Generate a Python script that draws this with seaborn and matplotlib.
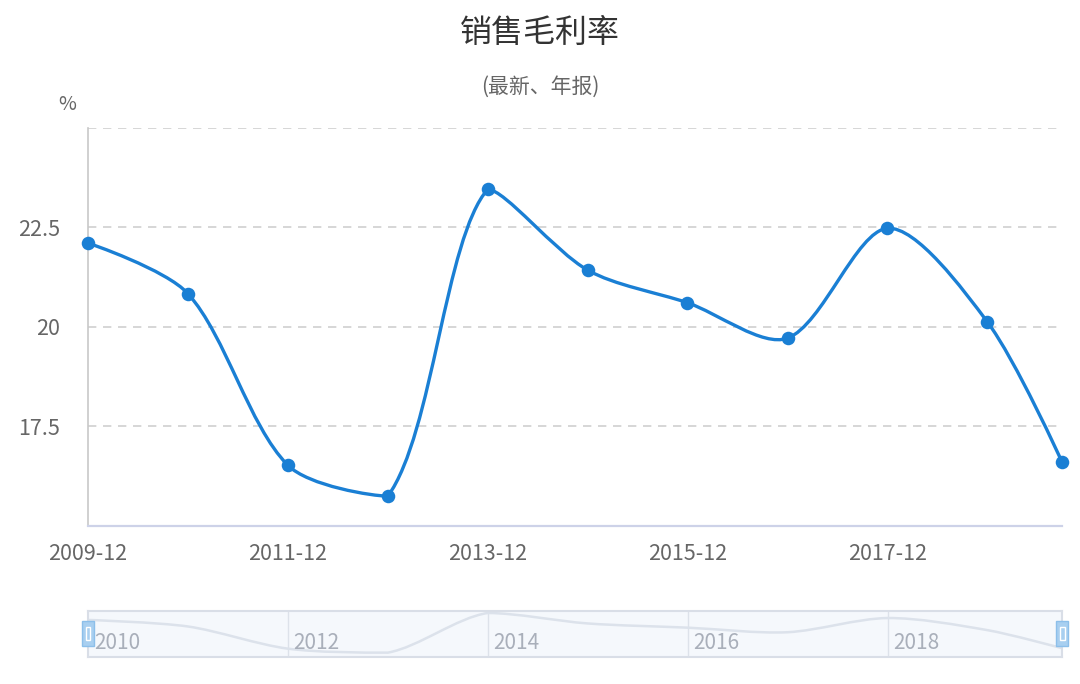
import numpy as np
import pandas as pd
import matplotlib
matplotlib.use('Agg')
import matplotlib.pyplot as plt
import matplotlib.dates as mdates
from matplotlib.path import Path
from matplotlib.patches import PathPatch, Rectangle
import seaborn as sns

# --- Data ---
periods = ['2009-12', '2010-12', '2011-12', '2012-12', '2013-12', '2014-12',
           '2015-12', '2016-12', '2017-12', '2018-12', '2019-09']
margin = [22.11, 20.84, 16.53, 15.75, 23.46, 21.43, 20.61, 19.72, 22.48, 20.13, 16.61]
y_ticks = [17.5, 20, 22.5]
y_tick_labels = ['17.5', '20', '22.5']
grid_levels = [17.5, 20, 22.5, 25]
x_tick_dates = ['2009-12', '2011-12', '2013-12', '2015-12', '2017-12']
slider_years = ['2010', '2012', '2014', '2016', '2018']

LINE = '#1a7fd4'

sns.set_theme(style='white')
plt.rcParams['font.family'] = ['Noto Sans CJK SC', 'DejaVu Sans']

df = pd.DataFrame({'period': periods, 'margin': margin})
df['date'] = pd.to_datetime(df['period']) + pd.offsets.MonthEnd(0)
df['x'] = mdates.date2num(df['date'])


def smooth_path(ax, xs, ys, smooth=0.3):
    # bezier smoothing in pixel space, control points kept in the points' bbox
    pts = ax.transData.transform(np.column_stack([xs, ys]))
    lo, hi = pts.min(axis=0), pts.max(axis=0)
    verts, codes = [pts[0]], [Path.MOVETO]
    cp0 = pts[0].copy()
    n = len(pts)
    for i in range(1, n):
        p, prev = pts[i], pts[i - 1]
        if i + 1 < n:
            nxt = pts[i + 1]
            v = nxt - prev
            lp = np.hypot(*(p - prev))
            ln = np.hypot(*(nxt - p))
            ratio = ln / (ln + lp)
            cp1 = p - v * smooth * (1 - ratio)
            ncp0 = p + v * smooth * ratio
        else:
            cp1 = p.copy()
            ncp0 = p.copy()
        verts += [np.clip(cp0, lo, hi), np.clip(cp1, lo, hi), p]
        codes += [Path.CURVE4] * 3
        cp0 = ncp0
    data_verts = ax.transData.inverted().transform(np.array(verts))
    return Path(data_verts, codes)


W, H = 1080, 684
fig = plt.figure(figsize=(W / 100, H / 100), dpi=100)
fig.patch.set_facecolor('white')

# main chart
ax = fig.add_axes([88 / W, 1 - 526 / H, (1062 - 88) / W, (526 - 128) / H])
ax.set_facecolor('white')
ax.set_xlim(df['x'].iloc[0], df['x'].iloc[-1])
ax.set_ylim(15, 25)

for lvl in grid_levels:
    ax.axhline(lvl, color='#cfcfcf', lw=1.2, ls=(0, (5, 4)), zorder=1)

path = smooth_path(ax, df['x'].values, df['margin'].values)
ax.add_patch(PathPatch(path, facecolor='none', edgecolor=LINE, lw=2.4,
                       zorder=3, clip_on=False, capstyle='round'))
sns.scatterplot(data=df, x='x', y='margin', ax=ax, s=95, color=LINE,
                edgecolor=LINE, linewidth=0, zorder=4, legend=False)
ax.collections[-1].set_clip_on(False)

xt = mdates.date2num(pd.to_datetime(x_tick_dates) + pd.offsets.MonthEnd(0))
ax.set_xticks(xt)
ax.set_xticklabels(x_tick_dates)
ax.set_yticks(y_ticks)
ax.set_yticklabels(y_tick_labels)
ax.tick_params(axis='x', length=0, pad=12, labelsize=15.5, labelcolor='#666666')
ax.tick_params(axis='y', length=0, pad=20, labelsize=15.5, labelcolor='#666666')
ax.set_xlabel('')
ax.set_ylabel('')
for side in ['top', 'right']:
    ax.spines[side].set_visible(False)
ax.spines['left'].set_color('#c8c8c8')
ax.spines['left'].set_linewidth(1.2)
ax.spines['bottom'].set_color('#cdd2e8')
ax.spines['bottom'].set_linewidth(1.6)

fig.text(0.5, 1 - 33 / H, '销售毛利率', ha='center', va='center',
         fontsize=23, color='#333333')
fig.text(0.5, 1 - 87 / H, '(最新、年报)', ha='center', va='center',
         fontsize=15, color='#666666')
fig.text(67 / W, 1 - 104 / H, '%', ha='center', va='center',
         fontsize=14, color='#666666')

# data zoom slider
ax2 = fig.add_axes([88 / W, 1 - 657 / H, (1062 - 88) / W, 46 / H])
ax2.set_facecolor('#f5f8fc')
ax2.set_xlim(ax.get_xlim())
ax2.set_ylim(14.9, 23.85)
ax2.set_xticks([])
ax2.set_yticks([])
for s in ax2.spines.values():
    s.set_color('#d9dee7')
    s.set_linewidth(1.5)

shadow = smooth_path(ax2, df['x'].values, df['margin'].values)
ax2.add_patch(PathPatch(shadow, facecolor='none', edgecolor='#dce2eb',
                        lw=1.8, zorder=2))

for yr in slider_years:
    xv = mdates.date2num(pd.Timestamp(f'{yr}-01-01'))
    if yr != slider_years[0]:
        ax2.axvline(xv, color='#dde2ea', lw=1.0, zorder=1)
    ax2.annotate(yr, xy=(xv, 0.30), xycoords=('data', 'axes fraction'),
                 xytext=(4, 0), textcoords='offset points', ha='left',
                 va='center', fontsize=15, color='#a9afba')

for cx in [88, 1062]:
    fig.add_artist(Rectangle(((cx - 6) / W, 1 - 646 / H), 12 / W, 25 / H,
                             transform=fig.transFigure, facecolor='#a8cff0',
                             edgecolor='#8cbfea', lw=1))
    fig.add_artist(Rectangle(((cx - 2.5) / W, 1 - 640 / H), 5 / W, 13 / H,
                             transform=fig.transFigure, facecolor='none',
                             edgecolor='white', lw=1))

fig.savefig('out.png', dpi=100, facecolor='white')
